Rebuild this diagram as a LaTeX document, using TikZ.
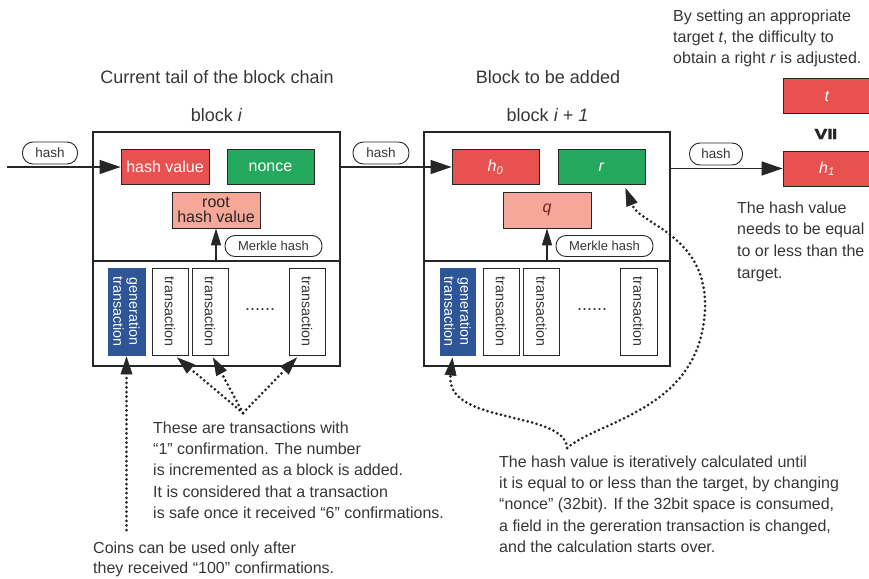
\documentclass[tikz,border=0pt]{standalone}
\usepackage{fontspec}
\setmainfont{Liberation Sans}
\newfontfamily\symfont{DejaVu Sans}
\usetikzlibrary{arrows.meta,calc}
\definecolor{hred}{HTML}{E8514F}
\definecolor{hgreen}{HTML}{23A85E}
\definecolor{hpink}{HTML}{F6A898}
\definecolor{hblue}{HTML}{2E5597}
\definecolor{ink}{HTML}{262626}
\definecolor{txt}{HTML}{363636}
\definecolor{qcol}{HTML}{7A1F1F}
\tikzset{
  blk/.style={draw=ink, line width=1.8pt, inner sep=0pt},
  fbox/.style={draw=ink, line width=0.9pt, inner sep=0pt, minimum width=87pt, minimum height=35pt, font=\fontsize{16}{18}\selectfont},
  redbox/.style={fbox, fill=hred, text=white},
  greenbox/.style={fbox, fill=hgreen, text=white},
  pinkbox/.style={fbox, fill=hpink, text=ink, align=center, minimum height=36pt},
  tagbox/.style={draw=ink, line width=0.9pt, fill=white, rounded corners=10.5pt, inner sep=0pt, minimum height=22pt, font=\fontsize{13.5}{15}\selectfont, text=txt},
  merk/.style={draw=ink, line width=0.9pt, fill=white, rounded corners=10pt, inner sep=0pt, minimum width=97pt, minimum height=21pt, font=\fontsize{13}{15}\selectfont, text=txt},
  txbox/.style={draw=ink, line width=0.9pt, fill=white, inner sep=0pt, rotate=-90, minimum width=87pt, minimum height=36pt, font=\fontsize{14.3}{16}\selectfont, text=txt},
  genbox/.style={txbox, fill=hblue, draw=hblue, text=white, align=center},
  note/.style={anchor=north west, inner sep=0pt, align=left, text=txt},
  title/.style={anchor=base, inner sep=0pt, text=txt, font=\fontsize{18}{20}\selectfont},
  solidarrow/.style={draw=ink, line width=1.5pt, -{Triangle[length=21pt,width=14pt]}},
  uparrow/.style={draw=ink, line width=1.5pt, -{Triangle[length=17pt,width=10pt]}},
  dotarrow/.style={draw=ink, line width=3pt, line cap=round, dash pattern=on 0pt off 4.6pt, -{Triangle[length=18pt,width=12pt,line width=0.5pt]}},
  dots/.style={inner sep=0pt, text=txt, font=\fontsize{18}{20}\selectfont}
}
\begin{document}
\begin{tikzpicture}[x=1pt,y=-1pt]
\useasboundingbox (0,0) rectangle (869,578);
\clip (0,0) rectangle (869,578);

% titles
\node[title] (ttlI) at (217,83) {Current tail of the block chain};
\node[title] (ttlII) at (548,83) {Block to be added};
\node[title] (bnI) at (216.5,121) {block \textit{i}};
\node[title] (bnII) at (547.5,121) {block \textit{i + 1}};

% blocks
\node[blk, minimum width=247pt, minimum height=234pt] (blkI) at (216.5,249) {};
\node[blk, minimum width=246pt, minimum height=234pt] (blkII) at (547,249) {};
\coordinate (divI) at (93,261);
\coordinate (divII) at (424,261);
\draw[ink, line width=1.8pt] (blkI.west |- divI) -- (blkI.east |- divI);
\draw[ink, line width=1.8pt] (blkII.west |- divII) -- (blkII.east |- divII);

% block i header
\node[redbox, minimum width=88pt] (hvI) at (165,167) {hash value};
\node[greenbox] (nonceI) at (270.5,167) {nonce};
\node[pinkbox, minimum width=88pt] (rootI) at (216,210) {root\\[-3pt]hash value};
\node[merk] (mkI) at (273.5,246) {Merkle hash};

% block i+1 header
\node[redbox] (h0) at (495.5,167) {\textit{h}\textsubscript{\textit{0}}};
\node[greenbox] (r) at (601.5,167) {\textit{r}};
\node[pinkbox, minimum width=88pt, text=qcol] (q) at (547,210) {\textit{q}};
\node[merk] (mkII) at (604.5,246) {Merkle hash};

% target side
\node[redbox, minimum width=88pt] (tt) at (827,96) {\textit{t}};
\node[redbox, minimum width=88pt] (h1) at (827,168.5) {\textit{h}\textsubscript{\textit{1}}};
\node[inner sep=0pt, text=ink] (leq) at (826,134) {\resizebox{22pt}{14pt}{\rotatebox{90}{\symfont\bfseries ≦}}};

% transactions block i
\node[genbox, minimum height=37pt] (genI) at (126.5,311.5) {generation\\transaction};
\node[txbox] (t1I) at (170,311.5) {transaction};
\node[txbox] (t2I) at (210,311.5) {transaction};
\node[dots] (dI) at (260,310) {......};
\node[txbox] (t3I) at (307,311.5) {transaction};

% transactions block i+1
\node[genbox, minimum height=35pt] (genII) at (457.5,311.5) {generation\\transaction};
\node[txbox] (t1II) at (501,311.5) {transaction};
\node[txbox] (t2II) at (541.5,311.5) {transaction};
\node[dots] (dII) at (592,310) {......};
\node[txbox, minimum height=37pt] (t3II) at (638.5,311.5) {transaction};

% hash tags
\node[tagbox, minimum width=55pt] (tagA) at (50,153) {hash};
\node[tagbox, minimum width=56pt] (tagB) at (381,153) {hash};
\node[tagbox, minimum width=53pt] (tagC) at (716,154) {hash};

% solid arrows
\coordinate (inA) at (7,167);
\draw[solidarrow] (inA) -- (hvI.west);
\draw[solidarrow] (blkI.east |- h0.west) -- (h0.west);
\draw[solidarrow] (blkII.east |- h1.west) -- (h1.west);
\draw[uparrow] (rootI.south |- divI) -- (rootI.south);
\draw[uparrow] (q.south |- divII) -- (q.south);

% dotted arrows, block i
\coordinate (coinsFrom) at (126.5,530);
\draw[dotarrow] (coinsFrom) -- ([yshift=-1pt]genI.east);
\coordinate (conv) at (243,413);
\draw[dotarrow] (conv) -- ([xshift=7pt,yshift=-2pt]t1I.east);
\draw[dotarrow] (conv) -- ([xshift=3pt,yshift=-2pt]t2I.east);
\draw[dotarrow] (conv) -- ([xshift=-10pt,yshift=-2pt]t3I.east);

% dotted brace arrows, block i+1
\coordinate (cusp) at (567,448);
\draw[dotarrow] (cusp) .. controls (565,410) and (445,425) .. ([xshift=-5pt,yshift=-2pt]genII.east);
\draw[dotarrow] (cusp) .. controls (600,420) and (700,410) .. (705,310) .. controls (708,235) and (640,225) .. ([xshift=-20pt,yshift=-3pt]r.south east);

% notes
\node[note, font=\fontsize{16}{21.3}\selectfont] (noteTx) at (153,421.5) {These are transactions with\\“1” confirmation. The number\\is incremented as a block is added.\\It is considered that a transaction\\is safe once it received “6” confirmations.};
\node[note, font=\fontsize{16}{20}\selectfont] (noteCoins) at (93,541.5) {Coins can be used only after\\they received “100” confirmations.};
\node[note, font=\fontsize{16}{21.25}\selectfont] (noteHash) at (499,455.5) {The hash value is iteratively calculated until\\it is equal to or less than the target, by changing\\“nonce” (32bit). If the 32bit space is consumed,\\a field in the gereration transaction is changed,\\and the calculation starts over.};
\node[note, font=\fontsize{16}{21}\selectfont] (noteTarget) at (673,9.5) {By setting an appropriate\\target \textit{t}, the difficulty to\\obtain a right \textit{r} is adjusted.};
\node[note, font=\fontsize{16}{21.7}\selectfont] (noteEq) at (737,201.5) {The hash value\\needs to be equal\\to or less than the\\target.};
\end{tikzpicture}
\end{document}
